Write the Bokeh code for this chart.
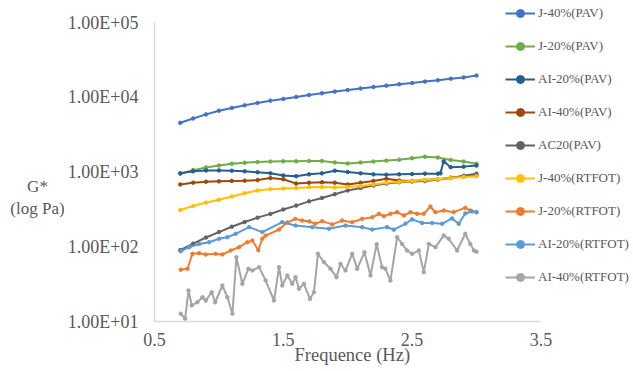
from bokeh.plotting import figure
from bokeh.layouts import row
from bokeh.models import Range1d, FixedTicker, Legend, LegendItem, Label, Title
from bokeh.embed import file_html
from bokeh.resources import INLINE

# ---------------- data ----------------
freq = [0.7, 0.8, 0.9, 1.0, 1.1, 1.2, 1.3, 1.4, 1.5, 1.6, 1.7, 1.8,
        1.9, 2.0, 2.1, 2.2, 2.3, 2.4, 2.5, 2.6, 2.7, 2.8, 2.9, 3.0]

j40_pav = [4550, 5200, 5900, 6600, 7200, 7800, 8400, 9000, 9500, 10100, 10700, 11300,
           11900, 12500, 13100, 13700, 14300, 14900, 15500, 16200, 16900, 17700, 18400, 19500]
j20_pav = [950, 1060, 1150, 1220, 1290, 1330, 1360, 1380, 1390, 1390, 1400, 1400,
           1340, 1300, 1340, 1380, 1420, 1460, 1530, 1600, 1560, 1450, 1380, 1290]
ai20_pav_x = [0.7, 0.8, 0.9, 1.0, 1.1, 1.2, 1.3, 1.4, 1.5, 1.6, 1.7, 1.8, 1.9, 2.0,
              2.1, 2.2, 2.3, 2.4, 2.5, 2.6, 2.7, 2.72, 2.745, 2.8, 2.9, 3.0]
ai20_pav = [960, 1020, 1050, 1050, 1040, 1020, 990, 960, 900, 880, 930, 960, 1040, 1000,
            960, 930, 920, 930, 940, 950, 950, 960, 1390, 1160, 1180, 1220]
ai40_pav = [680, 720, 740, 750, 760, 765, 780, 830, 800, 700, 720, 730,
            720, 680, 720, 760, 810, 770, 760, 780, 800, 840, 870, 900]
ac20_pav = [90, 110, 133, 157, 185, 214, 245, 275, 315, 355, 405, 450,
            505, 565, 610, 660, 700, 730, 745, 755, 790, 830, 890, 950]
j40_rtfot = [310, 350, 390, 425, 470, 520, 565, 590, 600, 610, 625, 630,
             620, 630, 650, 680, 720, 740, 760, 780, 800, 830, 860, 880]

j20_rtfot_x = [0.704, 0.756, 0.795, 0.847, 0.898, 0.975, 1.027, 1.091, 1.157, 1.221, 1.260,
               1.306, 1.337, 1.363, 1.467, 1.531, 1.593, 1.647, 1.702, 1.748, 1.802, 1.880,
               1.957, 2.035, 2.112, 2.190, 2.242, 2.281, 2.332, 2.384, 2.436, 2.487, 2.539,
               2.591, 2.642, 2.680, 2.746, 2.823, 2.913, 2.952, 3.0]
j20_rtfot = [49.2, 50.7, 80.5, 82, 78.8, 80.5, 78.8, 89, 98.6, 115, 121,
             90, 128, 141, 170, 211, 236, 224, 218, 203, 220, 199,
             224, 213, 236, 248, 276, 256, 276, 290, 262, 290, 276,
             276, 345, 290, 305, 290, 332, 305, 290]

ai20_rtfot_x = [0.704, 0.769, 0.847, 0.924, 1.002, 1.066, 1.130, 1.234, 1.337, 1.492, 1.595,
                1.725, 1.854, 1.983, 2.112, 2.190, 2.306, 2.358, 2.448, 2.500, 2.578, 2.655,
                2.733, 2.810, 2.862, 2.913, 2.965, 3.0]
ai20_rtfot = [87, 98.6, 109, 115, 128, 134, 149, 183, 157, 213, 192,
              183, 174, 192, 183, 170, 183, 169, 203, 232, 208, 208,
              203, 239, 203, 279, 296, 290]

ai40_rtfot_x = [0.704, 0.738, 0.764, 0.789, 0.833, 0.872, 0.898, 0.944, 0.971, 1.027, 1.066,
                1.105, 1.136, 1.182, 1.229, 1.260, 1.312, 1.363, 1.428, 1.467, 1.492, 1.531,
                1.570, 1.595, 1.622, 1.660, 1.707, 1.738, 1.769, 1.816, 1.867, 1.913, 1.944,
                1.983, 2.035, 2.074, 2.130, 2.177, 2.225, 2.267, 2.293, 2.332, 2.384, 2.422,
                2.461, 2.500, 2.552, 2.591, 2.630, 2.681, 2.746, 2.784, 2.849, 2.913, 2.952,
                2.98, 3.0]
ai40_rtfot = [12.7, 10.9, 26.0, 16.4, 18.1, 21.1, 19.1, 24.6, 18.1, 30.3, 21.1,
              12.7, 72.5, 31.9, 50.7, 48.1, 53.3, 35.3, 19.1, 53.3, 30.3, 41.2,
              31.9, 39.2, 27.4, 31.9, 20.1, 24.6, 80.5, 62.1, 50.7, 39.2, 59.2,
              48.1, 80.5, 50.7, 84.5, 41.2, 108, 53.3, 50.7, 35.3, 134, 109,
              89, 80.5, 89, 45.7, 109, 98.6, 141, 128, 89, 149, 109,
              89, 86]

series_names = ["J-40%(PAV)", "J-20%(PAV)", "AI-20%(PAV)", "AI-40%(PAV)", "AC20(PAV)",
                "J-40%(RTFOT)", "J-20%(RTFOT)", "AI-20%(RTFOT)", "AI-40%(RTFOT)"]
series_x = [freq, freq, ai20_pav_x, freq, freq, freq, j20_rtfot_x, ai20_rtfot_x, ai40_rtfot_x]
series_y = [j40_pav, j20_pav, ai20_pav, ai40_pav, ac20_pav, j40_rtfot, j20_rtfot, ai20_rtfot, ai40_rtfot]
series_colors = ["#4472C4", "#70AD47", "#255E91", "#9E480E", "#636363",
                 "#FFC000", "#ED7D31", "#5B9BD5", "#A5A5A5"]

xticks = [0.5, 1.5, 2.5, 3.5]
xtick_labels = ["0.5", "1.5", "2.5", "3.5"]
yticks = [10, 100, 1000, 10000, 100000]
ytick_labels = ["1.00E+01", "1.00E+02", "1.00E+03", "1.00E+04", "1.00E+05"]
ylabel_lines = ["G*", "(log Pa)"]
xlabel = "Frequence (Hz)"

FONT = "Liberation Serif"
TXT = "#595959"
AX = "#D9D9D9"

LEFT_W = 64          # width of the strip holding the horizontal y title
MAIN_W = 633 - LEFT_W
BORDER_L = 152 - LEFT_W

# Frame spans to the right/top edges so the legend is not clipped; axis lines use bounds.
x_end = xticks[0] + (633 - 152) * (xticks[-1] - xticks[0]) / (540 - 152)
y_end = yticks[-1] * 10 ** (22 / ((321 - 22) / 4))

p = figure(width=MAIN_W, height=371, output_backend="svg", toolbar_location=None,
           y_axis_type="log", x_range=Range1d(xticks[0], x_end), y_range=Range1d(yticks[0], y_end),
           min_border_left=BORDER_L, min_border_right=0, min_border_top=0, min_border_bottom=50)
p.outline_line_color = None
p.xgrid.visible = False
p.ygrid.visible = False

xa = p.xaxis[0]
xa.ticker = FixedTicker(ticks=xticks)
xa.major_label_overrides = {t: l for t, l in zip(xticks, xtick_labels)}
xa.bounds = (xticks[0], xticks[-1])
ya = p.yaxis[0]
ya.ticker = FixedTicker(ticks=yticks)
ya.major_label_overrides = {t: l for t, l in zip(yticks, ytick_labels)}
ya.bounds = (yticks[0], yticks[-1])
for ax in (xa, ya):
    ax.axis_line_color = AX
    ax.axis_line_width = 1.5
    ax.major_tick_line_color = None
    ax.minor_tick_line_color = None
    ax.major_tick_out = 0
    ax.major_tick_in = 0
    ax.minor_tick_out = 0
    ax.minor_tick_in = 0
    ax.major_label_text_font = FONT
    ax.major_label_text_font_size = "18px"
    ax.major_label_text_color = TXT
xa.major_label_standoff = 11
ya.major_label_standoff = 16

p.add_layout(Title(text=xlabel, align="left", offset=140, standoff=-8, vertical_align="top",
                   text_font=FONT, text_font_size="18.5px", text_font_style="normal",
                   text_color=TXT), "below")

items = []
for name, xs, ys, c in zip(series_names, series_x, series_y, series_colors):
    ln = p.line(xs, ys, line_color=c, line_width=2)
    sc = p.scatter(xs, ys, marker="circle", size=3.5, fill_color=c, line_color=c)
    items.append(LegendItem(label=name, renderers=[ln, sc]))

legend = Legend(items=items, location=(351, 34), border_line_color=None,
                background_fill_alpha=0, padding=0, margin=0, spacing=13,
                glyph_width=30, glyph_height=20, label_height=20, label_standoff=3,
                label_text_font=FONT, label_text_font_size="13px", label_text_color=TXT)
p.add_layout(legend)

# left strip holding the horizontal y-axis title
lf = figure(width=LEFT_W, height=371, output_backend="svg", toolbar_location=None,
            x_range=Range1d(0, 1), y_range=Range1d(0, 1),
            x_axis_location=None, y_axis_location=None,
            min_border=0, min_border_left=0, min_border_right=0,
            min_border_top=0, min_border_bottom=0)
lf.grid.visible = False
lf.outline_line_color = None
# screen y measured upward (empirical offset of the strip's frame)
for txt, sy in zip(ylabel_lines, [135, 113]):
    lf.add_layout(Label(x=37, y=sy, x_units="screen", y_units="screen", text=txt,
                        text_align="center", text_baseline="middle", text_font=FONT,
                        text_font_size="17px", text_color=TXT))

layout = row(lf, p, spacing=0)
open("out.html", "w").write(file_html(layout, INLINE))
